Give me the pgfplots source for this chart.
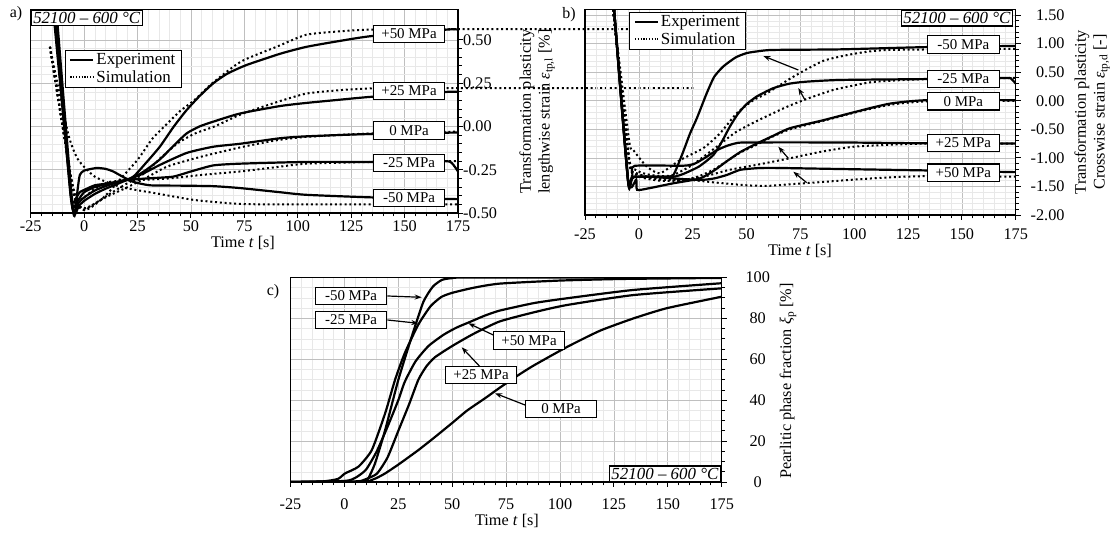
\documentclass[border=0pt]{standalone}
\usepackage{fontspec}
\setmainfont{Liberation Serif}
\usepackage{pgfplots}
\pgfplotsset{compat=1.18}
\usetikzlibrary{arrows.meta}

\pgfplotsset{
  panel/.style={
    scale only axis,
    xmin=-25, xmax=175,
    xtick={-25,0,25,50,75,100,125,150,175},
    minor x tick num=4,
    grid=both,
    major grid style={draw=black!25, line width=0.7bp},
    minor grid style={draw=black!9, line width=0.5bp},
    axis line style={line width=1.4bp},
    every tick/.style={black, line width=0.9bp},
    major tick length=5bp, minor tick length=3.5bp,
    tick align=outside,
    xtick pos=bottom, ytick pos=right, yticklabel pos=right,
    font=\fontsize{16.3}{19}\selectfont,
    /pgf/number format/assume math mode=true,
    xticklabel style={inner sep=0pt, anchor=center},
    yticklabel style={inner sep=0pt},
    legend style={draw=black, line width=1.1bp, fill=white, inner xsep=4bp, inner ysep=1.5bp,
      font=\fontsize{17}{19}\selectfont, legend cell align=left},
    legend image code/.code={\draw[##1] (0bp,0bp) -- (23bp,0bp);},
  },
  exp/.style={black, line width=2.2bp, smooth, tension=0.35, forget plot},
  sim/.style={black, line width=2bp, dash pattern=on 2bp off 2.8bp, smooth, tension=0.35, forget plot},
}
\tikzset{
  lbl/.style={draw=black, line width=1.1bp, fill=white, minimum width=71.7bp, minimum height=17.5bp,
    inner sep=0pt, font=\fontsize{15}{17}\selectfont},
  ttl/.style={draw=black, line width=1.1bp, fill=white, inner xsep=2bp, inner ysep=2bp,
    font=\itshape\fontsize{17}{19}\selectfont},
  arr/.style={-{Stealth[length=7bp,width=5bp]}, line width=1.2bp},
}

\begin{document}
\begin{tikzpicture}[x=1bp,y=1bp]
\useasboundingbox (0,0) rectangle (1113,533);

% ---------------- a) lengthwise strain
\begin{axis}[panel, at={(30.7bp,320bp)}, anchor=south west,
  width=427.3bp, height=203.5bp,
  ymin=-0.5, ymax=0.676, ytick={-0.5,-0.25,0,0.25,0.5}, minor y tick num=4,
  yticklabel style={anchor=west, /pgf/number format/.cd, fixed, fixed zerofill, precision=2},
  xticklabel style={yshift=-8bp},
  clip=false,
  legend style={at={(axis description cs:0.08,0.803)}, anchor=north west}]
\addlegendimage{black, line width=2bp}\addlegendentry{Experiment}
\addlegendimage{black, line width=1.2bp, dash pattern=on 1.2bp off 1.6bp}\addlegendentry{Simulation}
% experiment
\addplot[exp] coordinates {(-14,0.676) (-6.5,-0.38) (-4.4,-0.50) (-3,-0.36) (-2,-0.28) (0,-0.255) (5.8,-0.24) (10,-0.245) (13.6,-0.26) (18,-0.29) (23,-0.32) (30.8,-0.34) (45,-0.342) (60.5,-0.345) (73,-0.356) (91.7,-0.38) (104,-0.395) (135,-0.41) (175,-0.42)};
\addplot[exp] coordinates {(-14.5,0.676) (-6.5,-0.36) (-5,-0.44) (-4,-0.42) (-2,-0.38) (1.2,-0.36) (5,-0.34) (10.5,-0.33) (20,-0.31) (30,-0.30) (41.6,-0.29) (50,-0.26) (60.5,-0.225) (73,-0.215) (104,-0.205) (135,-0.205) (168,-0.20) (172,-0.21) (175,-0.26)};
\addplot[exp] coordinates {(-14,0.676) (-6,-0.40) (-4.5,-0.46) (-3,-0.43) (0,-0.38) (5,-0.35) (10,-0.335) (16,-0.32) (22,-0.30) (28,-0.27) (35.5,-0.222) (48,-0.153) (60.5,-0.117) (73,-0.100) (91.7,-0.068) (104,-0.057) (135,-0.043) (175,-0.035)};
\addplot[exp] coordinates {(-13.5,0.676) (-6,-0.42) (-4,-0.48) (-2.5,-0.44) (0,-0.41) (5,-0.37) (10,-0.345) (16,-0.32) (22,-0.30) (28,-0.26) (35.5,-0.19) (42,-0.11) (48,-0.04) (54,0.0) (60.5,0.028) (73,0.075) (91.7,0.118) (104,0.136) (120,0.155) (135,0.172) (170,0.20) (175,0.20)};
\addplot[exp] coordinates {(-13,0.676) (-5.5,-0.45) (-4,-0.50) (-2.5,-0.46) (0,-0.43) (5,-0.39) (10,-0.36) (16,-0.33) (23,-0.29) (29,-0.21) (35.5,-0.116) (42,0.0) (48,0.095) (54,0.175) (60.5,0.25) (67,0.305) (76,0.355) (91.7,0.42) (104,0.46) (120,0.495) (135,0.523) (170,0.56) (175,0.56)};
% simulation
\addplot[sim] coordinates {(-16,0.46) (-7.5,-0.04) (-2.9,-0.19) (5,-0.29) (17.2,-0.35) (33,-0.385) (51.7,-0.425) (73.4,-0.448) (100,-0.45) (175,-0.45)};
\addplot[sim] coordinates {(-16,0.46) (-6,-0.30) (-3,-0.42) (0,-0.41) (5,-0.36) (12,-0.32) (25,-0.31) (40,-0.30) (55,-0.28) (73,-0.26) (90,-0.235) (104,-0.215) (135,-0.205) (175,-0.20)};
\addplot[sim] coordinates {(-16,0.46) (-5,-0.38) (-2,-0.46) (0.25,-0.48) (10,-0.41) (20.5,-0.35) (30,-0.29) (39.2,-0.23) (54.7,-0.175) (73.4,-0.12) (90,-0.08) (104,-0.06) (135,-0.04) (175,-0.03)};
\addplot[sim] coordinates {(-16,0.46) (-5,-0.38) (-1,-0.47) (3,-0.46) (12.6,-0.385) (20,-0.33) (28.3,-0.27) (36,-0.18) (44,-0.095) (52,-0.04) (61,0.0) (73.4,0.07) (90,0.14) (104,0.19) (120,0.21) (135,0.22) (175,0.222) (286,0.222)};
\addplot[sim] coordinates {(-16,0.46) (-5,-0.38) (-1,-0.48) (3,-0.47) (10,-0.40) (18,-0.29) (25.2,-0.19) (32,-0.07) (39.2,0.02) (45,0.09) (51.7,0.153) (60,0.25) (73.4,0.375) (90,0.46) (104,0.53) (120,0.55) (135,0.56) (175,0.562) (254.5,0.562)};
\end{axis}

% ---------------- b) crosswise strain
\begin{axis}[panel, at={(585bp,318bp)}, anchor=south west,
  width=430.7bp, height=205.6bp,
  ymin=-2, ymax=1.6, ytick={-2,-1.5,-1,-0.5,0,0.5,1,1.5}, minor y tick num=4,
  yticklabel style={anchor=east, xshift=44bp, /pgf/number format/.cd, fixed, fixed zerofill, precision=2},
  xticklabel style={yshift=-14bp},
  legend style={at={(axis description cs:0.103,0.989)}, anchor=north west}]
\addlegendimage{black, line width=2bp}\addlegendentry{Experiment}
\addlegendimage{black, line width=1.2bp, dash pattern=on 1.2bp off 1.6bp}\addlegendentry{Simulation}
% experiment
\addplot[exp] coordinates {(-11.5,1.6) (-5,-1.40) (-4,-1.42) (-3,-1.36) (-2,-1.33) (5,-1.33) (12,-1.33) (16,-1.30) (20,-0.95) (23.8,-0.57) (27,-0.30) (31.5,0.13) (35,0.42) (39.2,0.60) (45,0.76) (50.1,0.835) (56,0.87) (62.4,0.89) (93.4,0.90) (133.7,0.94) (175,0.96)};
\addplot[exp] coordinates {(-11.5,1.6) (-5,-1.38) (-3,-1.33) (5,-1.33) (16,-1.33) (20.7,-1.28) (28,-1.15) (34.6,-0.95) (38.5,-0.72) (42.3,-0.45) (46,-0.23) (50,-0.06) (55,0.08) (62.4,0.22) (70,0.30) (78,0.335) (93.4,0.364) (133.7,0.38) (170,0.40) (173,0.38) (175,0.30)};
\addplot[exp] coordinates {(-11.5,1.6) (-5,-1.40) (-1.2,-1.38) (-0.8,-1.56) (5,-1.53) (16,-1.445) (28.4,-1.36) (35,-1.22) (40.8,-1.06) (47,-0.90) (54.7,-0.75) (62,-0.62) (70.2,-0.48) (85.7,-0.34) (101,-0.19) (116.6,-0.05) (133.7,0.01) (175,0.01)};
\addplot[exp] coordinates {(-11.5,1.6) (-5,-1.40) (-3,-1.30) (-2,-1.14) (20.7,-1.137) (26,-1.10) (31.5,-0.98) (36,-0.87) (40.8,-0.79) (45,-0.745) (50,-0.73) (93.4,-0.73) (133.7,-0.745) (175,-0.75)};
\addplot[exp] coordinates {(-11.5,1.6) (-5,-1.42) (-3,-1.34) (5,-1.33) (16,-1.36) (28.4,-1.387) (35,-1.36) (40.8,-1.30) (47,-1.21) (55,-1.18) (62.4,-1.175) (93.4,-1.195) (133.7,-1.22) (175,-1.25)};
% simulation
\addplot[sim] coordinates {(-12,1.6) (-4.5,-0.70) (-2.6,-0.86) (3.6,-1.15) (9.8,-1.27) (19.1,-1.04) (29.9,-0.83) (37.7,-0.57) (45.4,-0.22) (53.2,0.01) (59.4,0.13) (71.7,0.42) (85.7,0.70) (101,0.83) (116.6,0.89) (175,0.91)};
\addplot[sim] coordinates {(-12,1.6) (-4.5,-1.0) (-2,-1.2) (3,-1.28) (10,-1.32) (16,-1.30) (25,-1.12) (37,-0.78) (45,-0.55) (55,-0.35) (65.6,-0.16) (71,-0.07) (80,0.06) (90.3,0.19) (100,0.27) (109,0.33) (130,0.375) (175,0.40)};
\addplot[sim] coordinates {(-12,1.6) (-4.5,-1.05) (-2,-1.28) (3,-1.36) (10,-1.40) (20,-1.40) (28,-1.32) (35,-1.20) (40.8,-1.06) (47,-0.91) (54.7,-0.77) (62,-0.63) (70.2,-0.50) (85.7,-0.35) (101,-0.20) (116.6,-0.07) (134,-0.01) (175,0.0)};
\addplot[sim] coordinates {(-12,1.6) (-4.5,-1.05) (-2,-1.25) (3,-1.33) (10,-1.38) (19,-1.39) (30,-1.33) (42,-1.21) (55,-1.12) (71,-1.0) (85,-0.89) (101,-0.80) (132,-0.75) (175,-0.75)};
\addplot[sim] coordinates {(-12,1.6) (-4.5,-1.05) (-2,-1.25) (3,-1.32) (10,-1.36) (25,-1.39) (35,-1.43) (50,-1.48) (60,-1.49) (71,-1.46) (86,-1.42) (100,-1.38) (117,-1.34) (134,-1.32) (175,-1.33)};
\end{axis}

% ---------------- c) pearlitic phase fraction
\begin{axis}[panel, at={(290.5bp,51bp)}, anchor=south west,
  width=431.2bp, height=204.5bp,
  ymin=0, ymax=100, ytick={0,20,40,60,80,100}, minor y tick num=3,
  yticklabel style={anchor=center, xshift=31bp},
  xticklabel style={yshift=-17bp}]
\addplot[exp] coordinates {(-25,0) (5,0) (9.5,0.2) (11.1,1.8) (14.2,9.1) (18.9,25.4) (25,49.9) (31.2,71) (36.6,88) (41,95.5) (45.2,98.8) (50,99.7) (60,100) (175,100)};
\addplot[exp] coordinates {(-25,0) (-10,0.3) (-3,1.5) (0.3,4.2) (6.5,7.5) (12.7,15.6) (18.9,33.6) (23.5,50) (28,63) (34.3,77) (40,86) (45,90.5) (50,92.5) (60,95) (72,97) (100,98.5) (130,99.3) (175,99.8)};
\addplot[exp] coordinates {(-25,0) (0,0.5) (5,2) (10,6) (15,15) (20,27) (25,40) (28,49) (33,59) (39,66.5) (46,72) (52,75.5) (58.3,78.3) (65,81.3) (72,83.8) (88,87.5) (103,89.8) (134,93.9) (175,97.2)};
\addplot[exp] coordinates {(-25,0) (5,0.3) (9,1) (15,4) (20,12) (25,25) (30,38) (34.3,50) (38,56.5) (42,61) (50,66.5) (60,72.5) (72,78.5) (88,83) (103,86.5) (134,91.4) (175,94.7)};
\addplot[exp] coordinates {(-25,0) (8,0) (11,0.3) (15,2) (18.9,4.2) (25,8.5) (34.3,15.6) (42,22) (49.8,28.7) (57,35) (65.3,41) (72.2,46.2) (80,51.8) (87.7,56.9) (103.2,66) (118.6,74) (134.1,80) (149.6,85) (175,90.6)};
\end{axis}

% ---------------- annotations a)
\node[ttl, anchor=north west] at (30.7,523.5) {52100 -- 600 °C};
\node[lbl] at (409,499) {+50 MPa};
\node[lbl] at (409,442) {+25 MPa};
\node[lbl] at (409,402.5) {0 MPa};
\node[lbl] at (409,370) {-25 MPa};
\node[lbl] at (409,335) {-50 MPa};
\node[font=\fontsize{16}{19}\selectfont] at (16,519) {a)};
\node[font=\fontsize{16.3}{19}\selectfont] at (243,290) {Time \textit{t} [s]};
\node[rotate=90, align=center, font=\fontsize{16.3}{19}\selectfont] at (537,421.5)
  {Transformation plasticity\\lengthwise strain \textit{ε}\textsubscript{tp,l} [\%]};

% ---------------- annotations b)
\node[ttl, anchor=north east] at (1013,523) {52100 -- 600 °C};
\node[lbl] at (963.3,488.3) {-50 MPa};
\node[lbl] at (963.3,454) {-25 MPa};
\node[lbl] at (963.3,431.7) {0 MPa};
\node[lbl] at (963.3,390) {+25 MPa};
\node[lbl] at (963.3,360.2) {+50 MPa};
\draw[arr] (798.3,463) -- (763.3,477);
\draw[arr] (805,433) -- (798.3,445);
\draw[arr] (788.3,374.7) -- (778.3,386.3);
\draw[arr] (806.7,350.3) -- (793.3,361.3);
\node[font=\fontsize{16}{19}\selectfont] at (569,518) {b)};
\node[font=\fontsize{16.3}{19}\selectfont] at (800,282) {Time \textit{t} [s]};
\node[rotate=90, align=center, font=\fontsize{16.3}{19}\selectfont] at (1092,421)
  {Transformation plasticity\\Crosswise strain \textit{ε}\textsubscript{tp,d} [-]};

% ---------------- annotations c)
\node[ttl, anchor=south east] at (721,51) {52100 -- 600 °C};
\node[lbl] (m50) at (351,237) {-50 MPa};
\node[lbl] (m25) at (351,213) {-25 MPa};
\node[lbl] (p50) at (529,192.5) {+50 MPa};
\node[lbl] (p25) at (481,158) {+25 MPa};
\node[lbl] (z0) at (561,124) {0 MPa};
\draw[arr] (m50.east) -- (421.7,235.7);
\draw[arr] (m25.east) -- (418.3,209.7);
\draw[arr] (493.3,198) -- (468.3,209.7);
\draw[arr] (480,166.3) -- (461.7,185.7);
\draw[arr] (525,128) -- (495,139.7);
\node[font=\fontsize{16}{19}\selectfont] at (273,241.5) {c)};
\node[font=\fontsize{16.3}{19}\selectfont] at (507,12) {Time \textit{t} [s]};
\node[rotate=90, font=\fontsize{16.3}{19}\selectfont] at (788,152)
  {Pearlitic phase fraction \textit{ξ}\textsubscript{p} [\%]};
\end{tikzpicture}
\end{document}
